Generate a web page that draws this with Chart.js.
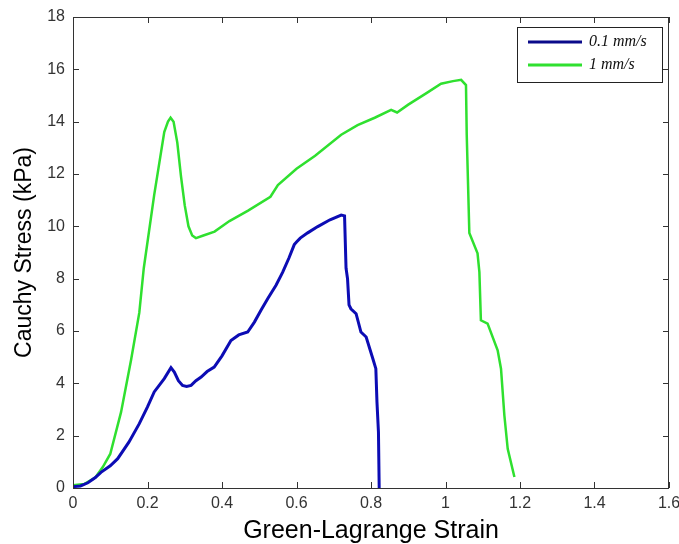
<!DOCTYPE html>
<html>
<head>
<meta charset="utf-8">
<script src="https://cdn.jsdelivr.net/npm/chart.js@4.4.1/dist/chart.umd.min.js"></script>
<style>
  html, body { margin: 0; padding: 0; background: #ffffff; }
  #wrap { width: 679px; height: 544px; }
</style>
</head>
<body>
<div id="wrap"><canvas id="chart" width="679" height="544"></canvas></div>
<script>
"use strict";

// 0.1 mm/s test
const slowStrain = [0, 0.02, 0.04, 0.06, 0.075, 0.1, 0.12, 0.15, 0.178, 0.2, 0.218, 0.245, 0.263, 0.272, 0.283, 0.294, 0.305, 0.317, 0.33, 0.344, 0.36, 0.379, 0.4, 0.424, 0.445, 0.469, 0.487, 0.505, 0.523, 0.545, 0.563, 0.58, 0.594, 0.6, 0.61, 0.63, 0.657, 0.69, 0.72, 0.729, 0.733, 0.737, 0.741, 0.746, 0.76, 0.773, 0.787, 0.805, 0.813, 0.816, 0.82, 0.822];
const slowStress = [0.05, 0.08, 0.2, 0.4, 0.6, 0.85, 1.12, 1.75, 2.46, 3.1, 3.67, 4.18, 4.6, 4.43, 4.1, 3.92, 3.88, 3.92, 4.1, 4.24, 4.45, 4.62, 5.05, 5.64, 5.85, 5.96, 6.34, 6.8, 7.24, 7.75, 8.25, 8.8, 9.3, 9.4, 9.55, 9.75, 9.99, 10.25, 10.43, 10.4, 8.4, 8.0, 7.0, 6.85, 6.66, 5.96, 5.77, 4.94, 4.56, 3.29, 2.14, 0.0];

// 1 mm/s test
const fastStrain = [0, 0.03, 0.06, 0.08, 0.1, 0.129, 0.156, 0.178, 0.19, 0.218, 0.245, 0.255, 0.262, 0.27, 0.28, 0.29, 0.3, 0.31, 0.32, 0.33, 0.35, 0.38, 0.42, 0.47, 0.53, 0.55, 0.6, 0.65, 0.72, 0.764, 0.81, 0.854, 0.87, 0.9, 0.95, 0.988, 1.02, 1.042, 1.055, 1.057, 1.064, 1.086, 1.091, 1.095, 1.113, 1.14, 1.149, 1.158, 1.167, 1.185];
const fastStress = [0.1, 0.15, 0.4, 0.8, 1.3, 2.9, 4.9, 6.7, 8.4, 11.2, 13.6, 14.0, 14.15, 14.0, 13.2, 11.9, 10.8, 10.0, 9.65, 9.55, 9.65, 9.8, 10.2, 10.6, 11.13, 11.58, 12.2, 12.7, 13.5, 13.87, 14.15, 14.45, 14.35, 14.65, 15.1, 15.45, 15.55, 15.6, 15.4, 13.5, 9.75, 8.97, 8.25, 6.41, 6.28, 5.26, 4.56, 2.78, 1.5, 0.42];

const seriesLabels = ['0.1 mm/s', '1 mm/s'];
const seriesColors = ['#0c0cb4', '#2fe02f'];

const xTicks = [0, 0.2, 0.4, 0.6, 0.8, 1, 1.2, 1.4, 1.6];
const yTicks = [0, 2, 4, 6, 8, 10, 12, 14, 16, 18];

const toPoints = (xs, ys) => xs.map((x, i) => ({x: x, y: ys[i]}));

// MATLAB-style box with inward ticks plus the boxed legend
const matlabFrame = {
    id: 'matlabFrame',
    afterDraw(chart) {
        const ctx = chart.ctx;
        const area = chart.chartArea;
        const xs = chart.scales.x;
        const ys = chart.scales.y;
        const tick = 6;

        ctx.save();
        ctx.strokeStyle = '#333333';
        ctx.lineWidth = 1;
        ctx.strokeRect(area.left + 0.5, area.top + 0.5, area.right - area.left - 1, area.bottom - area.top);

        ctx.beginPath();
        xTicks.forEach(v => {
            const px = Math.round(xs.getPixelForValue(v)) + 0.5;
            ctx.moveTo(px, area.bottom);
            ctx.lineTo(px, area.bottom - tick);
            ctx.moveTo(px, area.top);
            ctx.lineTo(px, area.top + tick);
        });
        yTicks.forEach(v => {
            const py = Math.round(ys.getPixelForValue(v)) + 0.5;
            ctx.moveTo(area.left, py);
            ctx.lineTo(area.left + tick, py);
            ctx.moveTo(area.right, py);
            ctx.lineTo(area.right - tick, py);
        });
        ctx.stroke();

        // legend
        const boxW = 145;
        const boxH = 55;
        const boxX = area.right - 7 - boxW;
        const boxY = area.top + 10;
        ctx.fillStyle = '#ffffff';
        ctx.fillRect(boxX, boxY, boxW, boxH);
        ctx.strokeStyle = '#222222';
        ctx.strokeRect(boxX + 0.5, boxY + 0.5, boxW, boxH);

        ctx.font = 'italic 16px "Liberation Serif", "Times New Roman", serif';
        ctx.textBaseline = 'middle';
        ctx.textAlign = 'left';
        seriesLabels.forEach((label, i) => {
            const ly = boxY + 15 + i * 23;
            ctx.strokeStyle = i === 0 ? '#0a0a8a' : seriesColors[1];
            ctx.lineWidth = 3;
            ctx.beginPath();
            ctx.moveTo(boxX + 11, ly);
            ctx.lineTo(boxX + 65, ly);
            ctx.stroke();
            ctx.fillStyle = '#111111';
            ctx.fillText(label, boxX + 72, ly);
        });
        ctx.restore();
    }
};

const ctx = document.getElementById('chart').getContext('2d');

new Chart(ctx, {
    type: 'scatter',
    data: {
        datasets: [
            {
                label: seriesLabels[0],
                data: toPoints(slowStrain, slowStress),
                showLine: true,
                borderColor: seriesColors[0],
                borderWidth: 3,
                pointRadius: 0,
                tension: 0
            },
            {
                label: seriesLabels[1],
                data: toPoints(fastStrain, fastStress),
                showLine: true,
                borderColor: seriesColors[1],
                borderWidth: 2.5,
                pointRadius: 0,
                tension: 0
            }
        ]
    },
    options: {
        responsive: false,
        animation: false,
        layout: {
            padding: {top: 17, right: 10, left: 0, bottom: 0}
        },
        plugins: {
            legend: {display: false},
            tooltip: {enabled: false}
        },
        scales: {
            x: {
                type: 'linear',
                min: 0,
                max: 1.6,
                afterBuildTicks: scale => {
                    scale.ticks = xTicks.map(v => ({value: v}));
                },
                afterFit: scale => {
                    scale.height = 56;
                    scale.paddingLeft = 0;
                    scale.paddingRight = 0;
                },
                grid: {display: false, drawTicks: false},
                border: {display: false},
                ticks: {
                    padding: 6,
                    color: '#333333',
                    font: {family: 'Arial, "Liberation Sans", sans-serif', size: 16},
                    maxRotation: 0,
                    callback: v => String(v)
                },
                title: {
                    display: true,
                    text: 'Green-Lagrange Strain',
                    color: '#000000',
                    padding: 0,
                    font: {family: 'Arial, "Liberation Sans", sans-serif', size: 25, lineHeight: 1}
                }
            },
            y: {
                type: 'linear',
                min: 0,
                max: 18,
                afterBuildTicks: scale => {
                    scale.ticks = yTicks.map(v => ({value: v}));
                },
                afterFit: scale => {
                    scale.width = 73;
                    scale.paddingTop = 0;
                    scale.paddingBottom = 0;
                },
                grid: {display: false, drawTicks: false},
                border: {display: false},
                ticks: {
                    padding: 8,
                    color: '#333333',
                    font: {family: 'Arial, "Liberation Sans", sans-serif', size: 16},
                    callback: v => String(v)
                },
                title: {
                    display: true,
                    text: 'Cauchy Stress (kPa)',
                    color: '#000000',
                    padding: {top: 13, bottom: 0},
                    font: {family: 'Arial, "Liberation Sans", sans-serif', size: 23, lineHeight: 1}
                }
            }
        }
    },
    plugins: [matlabFrame]
});
</script>
</body>
</html>
